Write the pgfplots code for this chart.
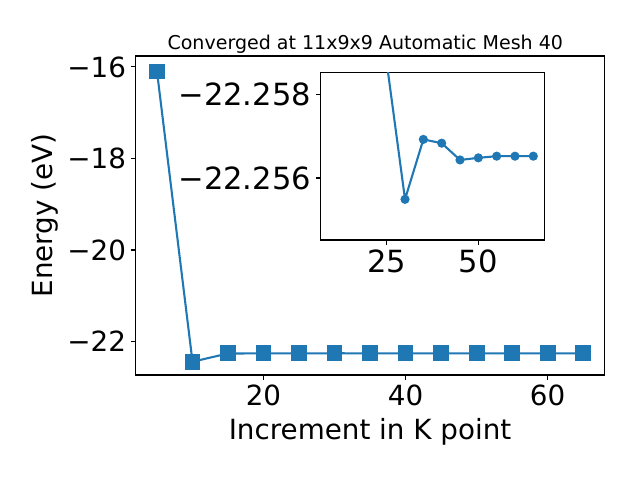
\documentclass[border=0pt]{standalone}
\usepackage{fontspec}
\setmainfont{DejaVu Sans}
\usepackage{pgfplots}
\pgfplotsset{compat=1.18}
\definecolor{c0}{HTML}{1F77B4}
\begin{document}
\begin{tikzpicture}[x=0.72bp,y=0.72bp]
\useasboundingbox (0,0) rectangle (640,480);
\begin{axis}[
  at={(97.70bp,75.6bp)}, anchor=south west, scale only axis,
  width=337.4bp, height=229.7bp,
  xmin=2, xmax=68, ymin=-22.73, ymax=-15.76,
  xtick={20,40,60}, xticklabels={20,40,60},
  ytick={-22,-20,-18,-16}, yticklabels={−22,−20,−18,−16},
  tick pos=left, tick align=outside, major tick length=3.5bp,
  tick style={line width=0.8bp, black},
  axis line style={line width=0.8bp},
  ticklabel style={font=\fontsize{20bp}{24bp}\selectfont},
]
\addplot[c0, line width=1.5bp, mark=square*, mark size=5bp, mark options={fill=c0, draw=c0}] coordinates {
(5,-16.1) (10,-22.44) (15,-22.26) (20,-22.259) (25,-22.2588) (30,-22.2555) (35,-22.2569) (40,-22.2568) (45,-22.2564) (50,-22.2565) (55,-22.2565) (60,-22.2565) (65,-22.2565)
};
\end{axis}
\begin{axis}[
  at={(230.9bp,172.8bp)}, anchor=south west, scale only axis,
  width=161.0bp, height=120.7bp,
  xmin=7, xmax=68, ymin=-2.52, ymax=1.48, y dir=reverse,
  xtick={25,50}, xticklabels={25,50},
  ytick={-2,0}, yticklabels={−22.258,−22.256},
  tick pos=left, tick align=outside, major tick length=3.5bp,
  tick style={line width=0.8bp, black},
  axis line style={line width=0.8bp},
  axis background/.style={fill=white},
  ticklabel style={font=\fontsize{22bp}{26bp}\selectfont},
]
% energies in meV relative to -22.256 eV
\addplot[c0, line width=1.5bp, mark=*, mark size=2.5bp, mark options={fill=c0, draw=c0}] coordinates {
(15,-4.0) (20,-3.0) (25,-2.76) (30,0.51) (35,-0.92) (40,-0.83) (45,-0.43) (50,-0.48) (55,-0.52) (60,-0.52) (65,-0.52)
};
\end{axis}
\node[font=\fontsize{13.7bp}{16bp}\selectfont, anchor=base] at (365.3,430.5) {Converged at 11x9x9 Automatic Mesh 40};
\node[font=\fontsize{20bp}{24bp}\selectfont] at (370,48) {Increment in K point};
\node[font=\fontsize{20bp}{24bp}\selectfont, rotate=90] at (45,264.5) {Energy (eV)};
\end{tikzpicture}
\end{document}
